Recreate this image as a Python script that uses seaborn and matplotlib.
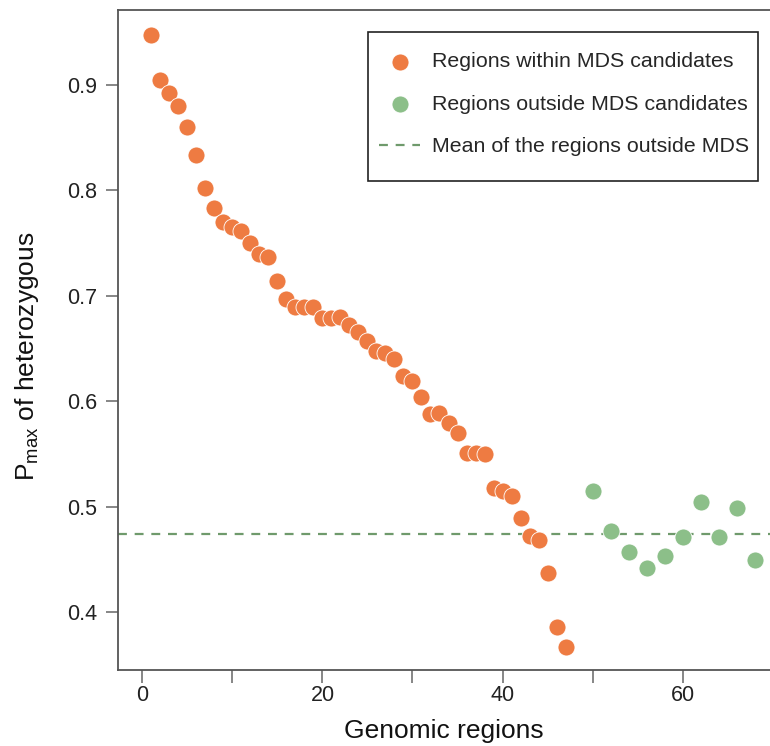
import numpy as np
import pandas as pd
import matplotlib
matplotlib.use("Agg")
import matplotlib.pyplot as plt
from matplotlib.patches import Rectangle
import seaborn as sns

# -----------------------------
# Data
# -----------------------------
within_x = list(range(1, 48))
within_y = [0.947, 0.905, 0.892, 0.880, 0.860, 0.833, 0.802, 0.783, 0.770, 0.765,
            0.761, 0.750, 0.740, 0.737, 0.714, 0.697, 0.689, 0.689, 0.689, 0.679,
            0.679, 0.680, 0.672, 0.666, 0.657, 0.648, 0.646, 0.640, 0.624, 0.619,
            0.604, 0.588, 0.589, 0.579, 0.570, 0.551, 0.551, 0.550, 0.518, 0.515,
            0.510, 0.489, 0.472, 0.468, 0.437, 0.386, 0.367]

outside_x = [50, 52, 54, 56, 58, 60, 62, 64, 66, 68]
outside_y = [0.515, 0.477, 0.457, 0.442, 0.453, 0.471, 0.504, 0.471, 0.499, 0.449]

x_ticks = [0, 10, 20, 30, 40, 50, 60]
x_ticklabels = ["0", "", "20", "", "40", "", "60"]
y_ticks = [0.4, 0.5, 0.6, 0.7, 0.8, 0.9]

label_within = "Regions within MDS candidates"
label_outside = "Regions outside MDS candidates"
label_mean = "Mean of the regions outside MDS"

orange = "#EE7B42"
green = "#8CBF89"
line_green = "#6F9A6C"

sns.set_style("white")
plt.rcParams['font.family'] = ['Liberation Sans', 'DejaVu Sans']
plt.rcParams['mathtext.fontset'] = 'custom'
plt.rcParams['mathtext.rm'] = 'Liberation Sans'
plt.rcParams['mathtext.it'] = 'Liberation Sans'

df_in = pd.DataFrame({"x": within_x, "y": within_y})
df_out = pd.DataFrame({"x": outside_x, "y": outside_y})

fig = plt.figure(figsize=(7.7, 7.46), dpi=100)
ax = fig.add_axes([118 / 770, 1 - 670 / 746, 1 - 118 / 770, 660 / 746])

sns.scatterplot(data=df_in, x="x", y="y", ax=ax, color=orange, s=150,
                edgecolor="white", linewidth=0.6, label=label_within, zorder=3)
sns.scatterplot(data=df_out, x="x", y="y", ax=ax, color=green, s=150,
                edgecolor="white", linewidth=0.6, label=label_outside, zorder=3)
ax.axhline(np.mean(outside_y), color=line_green, linestyle=(0, (4, 3.5)),
           linewidth=1.6, label=label_mean, zorder=2)

ax.set_xlim(-2.72, 69.72)
ax.set_ylim(0.345, 0.971)
ax.set_xticks(x_ticks)
ax.set_xticklabels(x_ticklabels)
ax.set_yticks(y_ticks)
ax.set_yticklabels([f"{v:.1f}" for v in y_ticks])

for side in ["left", "bottom", "top"]:
    ax.spines[side].set_color("#555555")
    ax.spines[side].set_linewidth(1.3)
ax.spines["right"].set_visible(False)

ax.tick_params(axis="both", which="both", direction="out", length=9, width=1.1,
               color="#666666", labelsize=15.5, labelcolor="#222222", pad=6,
               bottom=True, left=True)
ax.tick_params(axis="x", pad=2)

ax.set_xlabel("Genomic regions", fontsize=19, color="#111111", labelpad=9)
ax.set_ylabel(r"P$_{\mathrm{max}}$ of heterozygous", fontsize=19,
              color="#111111")
ax.yaxis.set_label_coords(-0.118, 0.475)

# legend box drawn separately so its padding can match the original
ax.add_patch(Rectangle((0.3834, 0.7409), 0.5982, 0.2258, transform=ax.transAxes,
                       facecolor="white", edgecolor="#222222", linewidth=1.2,
                       zorder=4))
leg = ax.legend(loc="upper right", bbox_to_anchor=(0.968, 0.936),
                borderaxespad=0, fontsize=15.4, frameon=False,
                handlelength=1.9, labelspacing=1.1, borderpad=0,
                handletextpad=0.56, markerscale=1.0)
leg.set_zorder(5)

fig.savefig("out.png", dpi=100)
